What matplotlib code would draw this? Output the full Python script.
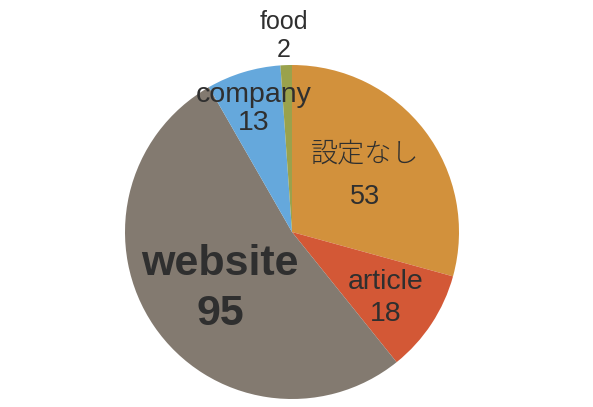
import matplotlib
matplotlib.use("Agg")
import matplotlib.pyplot as plt

categories = ["設定なし", "article", "website", "company", "food"]
values = [53, 18, 95, 13, 2]
colors = ["#D2913C", "#D35836", "#837A70", "#65A8DC", "#9AA24C"]

W, H = 593, 407
fig = plt.figure(figsize=(W / 100, H / 100), dpi=100)
cx, cy, r = 292, 232, 167
ax = fig.add_axes([(cx - r) / W, (H - cy - r) / H, 2 * r / W, 2 * r / H])
wedges, _ = ax.pie(values, colors=colors, startangle=90, counterclock=False,
                   radius=1.0, wedgeprops=dict(linewidth=0))
ax.set_xlim(-1, 1)
ax.set_ylim(-1, 1)
ax.set_aspect("equal")
ax.axis("off")

fam = ["Liberation Sans", "Noto Sans CJK JP", "DejaVu Sans"]
txt = "#2f2f2f"

# label layout: (x, y of name, y of value, size, weight)
layout = {
    "設定なし": (0.44, 0.46, 0.21, 19.5, "light"),
    "article": (0.56, -0.30, -0.49, 20.5, "normal"),
    "website": (-0.43, -0.19, -0.49, 31, "bold"),
    "company": (-0.23, 0.82, 0.65, 20.5, "normal"),
    "food": (-0.05, 1.26, 1.09, 18, "normal"),
}
for cat, val in zip(categories, values):
    x, yn, yv, s, w = layout[cat]
    ax.text(x, yn, cat, ha="center", va="center", fontsize=s, fontweight=w,
            family=fam, color=txt, clip_on=False)
    ax.text(x, yv, str(val), ha="center", va="center", fontsize=s,
            fontweight=("bold" if w == "bold" else "normal"),
            family=fam, color=txt, clip_on=False)

fig.savefig("out.png", dpi=100)
